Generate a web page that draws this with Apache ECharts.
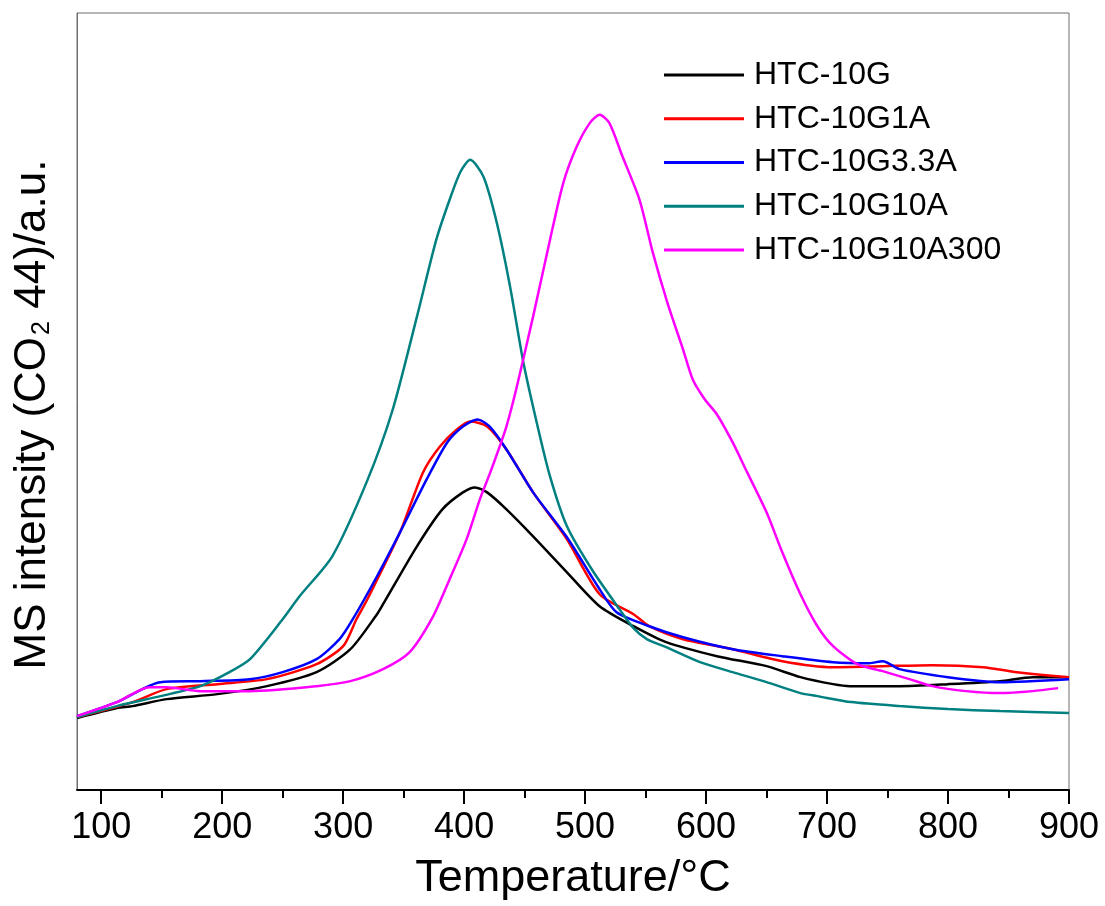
<!DOCTYPE html>
<html>
<head>
<meta charset="utf-8">
<script src="https://cdn.jsdelivr.net/npm/echarts@6/dist/echarts.min.js"></script>
<style>
html,body{margin:0;padding:0;background:#fff;}
#chart{width:1105px;height:906px;}
</style>
</head>
<body>
<div id="chart"></div>
<script>
// Tick labels
const xTicks = [100, 200, 300, 400, 500, 600, 700, 800, 900];
const xMinorTicks = [150, 250, 350, 450, 550, 650, 750, 850];
const seriesNames = ['HTC-10G', 'HTC-10G1A', 'HTC-10G3.3A', 'HTC-10G10A', 'HTC-10G10A300'];

// [temperature °C, MS intensity a.u.]
const htc10G = [[80,72],[113,82],[126,84],[154,91],[196,96],[237,104],[278,118],[306,141],[328,176],[333,186],[361,244],[382,281],[399,298],[409,303],[419,298],[435,281],[457,254],[485,218],[512,184],[540,164],[567,148],[609,134],[650,124],[678,113],[705,106],[719,104],[760,104],[800,106],[843,109],[870,113],[900,113]];
const htc10G1A = [[80,73],[126,88],[154,101],[196,106],[237,111],[278,126],[300,144],[311,171],[320,191],[347,258],[366,318],[380,344],[394,361],[405,369],[419,364],[435,341],[457,298],[485,251],[512,196],[540,176],[553,164],[581,151],[622,141],[663,129],[705,123],[746,124],[787,125],[829,123],[857,118],[900,113]];
const htc10G33A = [[80,74],[113,88],[149,108],[182,109],[223,111],[250,118],[278,131],[297,151],[308,171],[328,214],[347,258],[369,311],[386,348],[399,364],[411,371],[421,364],[435,341],[457,298],[485,253],[512,201],[526,178],[553,164],[581,153],[622,141],[663,134],[705,128],[735,127],[746,129],[760,121],[800,113],[843,108],[900,111]];
const htc10G10A = [[80,73],[113,84],[149,94],[182,104],[206,118],[223,131],[250,171],[264,194],[291,234],[320,310],[341,381],[361,474],[377,551],[388,591],[397,619],[405,631],[416,614],[427,568],[438,504],[449,428],[460,368],[471,314],[485,264],[506,220],[529,180],[540,162],[551,151],[567,143],[595,128],[622,118],[650,108],[678,97],[692,94],[720,88],[760,84],[800,81],[843,79],[900,77]];
const htc10G10A300 = [[80,74],[113,88],[140,103],[154,103],[182,99],[223,99],[278,104],[306,109],[333,121],[355,138],[374,173],[388,211],[402,251],[413,291],[421,316],[430,346],[435,364],[443,401],[457,474],[471,551],[482,608],[493,644],[504,668],[512,676],[520,668],[531,634],[545,591],[556,538],[568,488],[581,441],[589,411],[599,391],[609,376],[622,348],[634,318],[650,278],[663,238],[678,196],[692,164],[705,144],[725,126],[746,119],[768,111],[787,104],[815,99],[843,97],[870,99],[891,102]];

const seriesData = [htc10G, htc10G1A, htc10G33A, htc10G10A, htc10G10A300];
const colors = ['#000000', '#ff0000', '#0000ff', '#008080', '#ff00ff'];

const chart = echarts.init(document.getElementById('chart'), null, {renderer: 'canvas'});
const FONT = 'Liberation Sans, Arial, sans-serif';

chart.setOption({
  animation: false,
  backgroundColor: '#ffffff',
  color: colors,
  grid: {left: 77, right: 36, top: 13, bottom: 115, show: true, borderColor: '#6e6e6e', borderWidth: 1},
  legend: {
    orient: 'vertical',
    left: 664,
    top: 59,
    padding: 0,
    itemWidth: 80,
    itemHeight: 3,
    itemGap: 11.75,
    icon: 'rect',
    data: seriesNames,
    textStyle: {fontFamily: FONT, fontSize: 32, color: '#000', lineHeight: 32, padding: [0, 0, 0, 5]}
  },
  xAxis: [{
    type: 'value', min: 80, max: 900, position: 'bottom',
    name: 'Temperature/°C', nameLocation: 'middle', nameGap: 66,
    nameTextStyle: {fontFamily: FONT, fontSize: 45, color: '#000'},
    axisLine: {show: true, onZero: false, lineStyle: {color: '#000', width: 2}},
    axisTick: {show: true, inside: false, length: 14, lineStyle: {color: '#000', width: 2}, customValues: xTicks},
    axisLabel: {show: true, margin: 20, fontFamily: FONT, fontSize: 36, color: '#000', customValues: xTicks},
    splitLine: {show: false}
  }, {
    type: 'value', min: 80, max: 900, position: 'bottom', gridIndex: 0,
    axisLine: {show: false, onZero: false},
    axisTick: {show: true, inside: false, length: 8, lineStyle: {color: '#000', width: 2}, customValues: xMinorTicks},
    axisLabel: {show: false},
    splitLine: {show: false}
  }],
  yAxis: {
    type: 'value', min: 0, max: 778,
    name: 'MS intensity (CO{sub|2} 44)/a.u.', nameLocation: 'middle', nameGap: 22,
    nameTextStyle: {
      fontFamily: FONT, fontSize: 44, color: '#000', padding: [0, 26, 0, 0],
      rich: {sub: {fontFamily: FONT, fontSize: 25, color: '#000', verticalAlign: 'bottom', padding: [18, 0, 0, 2]}}
    },
    axisLine: {show: true, lineStyle: {color: '#6e6e6e', width: 1}},
    axisTick: {show: false},
    axisLabel: {show: false},
    splitLine: {show: false}
  },
  series: seriesData.map((d, i) => ({
    name: seriesNames[i],
    type: 'line',
    xAxisIndex: 0,
    data: d,
    showSymbol: false,
    symbol: 'none',
    smooth: 0.25,
    lineStyle: {color: colors[i], width: 2.5},
    itemStyle: {color: colors[i]}
  }))
});
</script>
</body>
</html>
